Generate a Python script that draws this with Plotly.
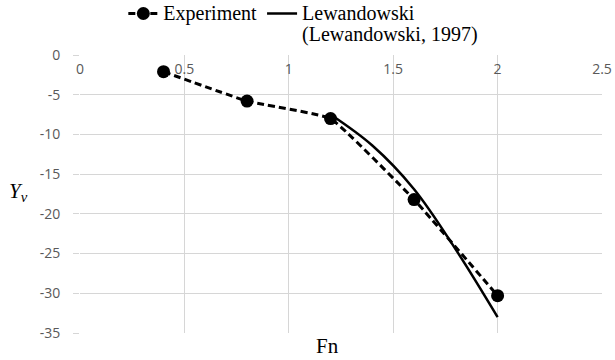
import plotly.graph_objects as go

fn_exp = [0.4, 0.8, 1.2, 1.6, 2.0]
yv_exp = [-2.1, -5.8, -8.0, -18.2, -30.3]
fn_lew = [1.2, 1.4, 1.6, 1.8, 2.0]
yv_lew = [-7.5, -11.4, -16.9, -24.5, -33.0]
x_ticks = [0, 0.5, 1, 1.5, 2, 2.5]
x_ticklabels = ["0", "0.5", "1", "1.5", "2", "2.5"]
y_ticks = [0, -5, -10, -15, -20, -25, -30, -35]
y_ticklabels = ["0", "-5", "-10", "-15", "-20", "-25", "-30", "-35"]

span = '<span style="font-size:20px">{}</span>'

fig = go.Figure()
fig.add_trace(go.Scatter(
    x=fn_exp, y=yv_exp, mode="lines+markers", name=span.format("Experiment"),
    line=dict(color="black", width=3, dash="7px,4px", shape="spline", smoothing=0.3),
    marker=dict(color="black", size=13),
))
fig.add_trace(go.Scatter(
    x=fn_lew, y=yv_lew, mode="lines",
    name=span.format("Lewandowski") + "<br>" + span.format("(Lewandowski, 1997)"),
    line=dict(color="black", width=2.5, shape="spline", smoothing=1.0),
))

grid = "#d6d6d6"
tickfont = dict(family="Open Sans", size=14, color="#595959")
fig.update_layout(
    width=615, height=360,
    margin=dict(l=80, r=13, t=55, b=27, autoexpand=False),
    paper_bgcolor="white", plot_bgcolor="white",
    showlegend=True,
    legend=dict(orientation="h", x=0.083, xanchor="left", y=1.21, yanchor="top",
                font=dict(family="Liberation Serif", size=16, color="black"),
                valign="top", bgcolor="rgba(0,0,0,0)", itemwidth=30, tracegroupgap=0),
    xaxis=dict(range=[0, 2.5], tickvals=x_ticks, ticktext=x_ticklabels,
               anchor="free", position=1, side="bottom",
               showgrid=True, gridcolor=grid, gridwidth=1.3,
               showline=False, zeroline=False, ticks="",
               tickfont=tickfont, ticklabelstandoff=4),
    yaxis=dict(range=[-35, 0], tickvals=y_ticks, ticktext=y_ticklabels,
               showgrid=True, gridcolor=grid, gridwidth=1.3,
               showline=False, zeroline=False,
               ticks="outside", ticklen=6, tickcolor=grid, tickwidth=1.3,
               tickfont=tickfont, ticklabelstandoff=10),
    annotations=[
        dict(text="Fn", x=0.474, y=-0.047, xref="paper", yref="paper",
             xanchor="center", yanchor="middle", showarrow=False,
             font=dict(family="Liberation Serif", size=21, color="black")),
        dict(text="<i>Y<sub>v</sub></i>", x=-0.117, y=0.507, xref="paper", yref="paper",
             xanchor="center", yanchor="middle",
             showarrow=False, font=dict(family="Liberation Serif", size=21, color="black")),
    ],
)
fig.write_html("out.html")
